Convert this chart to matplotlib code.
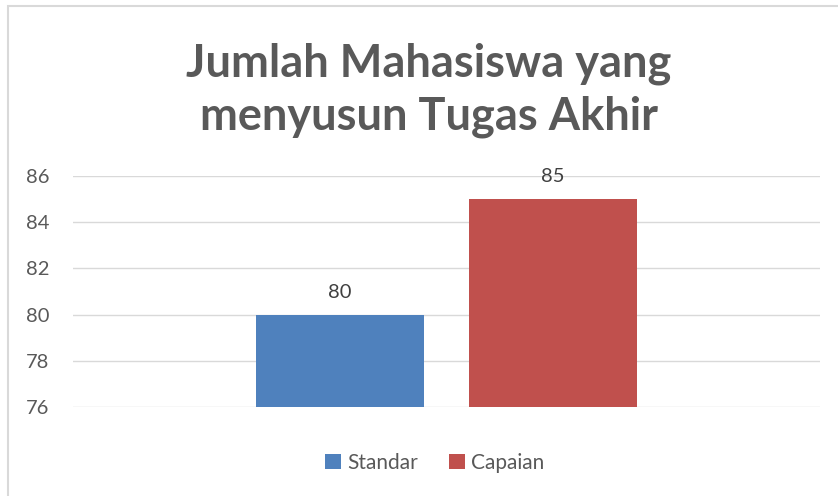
import numpy as np
import matplotlib.pyplot as plt
from matplotlib.patches import Rectangle

# ---- data
title = "Jumlah Mahasiswa yang\nmenyusun Tugas Akhir"
series = ["Standar", "Capaian"]
values = [80, 85]
colors = ["#4F81BD", "#C0504D"]
yticks = [76, 78, 80, 82, 84, 86]

plt.rcParams['font.family'] = ['Lato', 'DejaVu Sans']
txt = "#595959"

fig = plt.figure(figsize=(8.38, 4.96), dpi=100)
ax = fig.add_axes([73/838, 1 - 407/496, 747/838, 231/496])

# chart border (Excel style)
fig.patches.append(Rectangle((8/838, -0.05), 1.2, 1 - 6/496 + 0.05,
                             transform=fig.transFigure, fill=False,
                             edgecolor="#D9D9D9", linewidth=1.5))

width = 0.225
offsets = [-0.1426, 0.1426]
for name, v, c, off in zip(series, values, colors, offsets):
    ax.bar(off, v - yticks[0], width, bottom=yticks[0], color=c, label=name, zorder=3)
    ax.text(off, v + 0.6, str(v), ha="center", va="bottom", fontsize=14.5, color="#404040")

ax.set_xlim(-0.5, 0.5)
ax.set_ylim(yticks[0], yticks[-1])
ax.set_yticks(yticks)
ax.set_xticks([])
ax.grid(axis="y", color="#D9D9D9", linewidth=1, zorder=0)
for s in ax.spines.values():
    s.set_visible(False)
ax.tick_params(axis="y", length=0, labelsize=14.5, labelcolor=txt, pad=17)

fig.text(429/838, 1 - 90/496, title, ha="center", va="center", fontsize=32.5,
         fontweight="bold", color=txt, linespacing=1.3)

fig.legend(loc="center", bbox_to_anchor=(435/838, 1 - 463/496), ncol=2, frameon=False,
           fontsize=15, handlelength=0.75, handleheight=0.75, handletextpad=0.3,
           columnspacing=1.5, labelcolor=txt)

fig.savefig("out.png", dpi=100)
